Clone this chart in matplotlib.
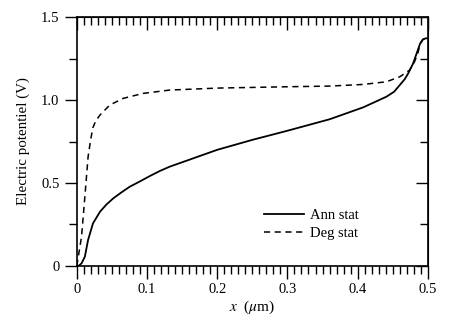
import numpy as np
import matplotlib
matplotlib.use("Agg")
import matplotlib.pyplot as plt
from matplotlib.ticker import MultipleLocator

plt.rcParams['font.family'] = ['Liberation Serif', 'DejaVu Serif']
plt.rcParams['mathtext.fontset'] = 'stix'

# Ann stat (solid)
ann_x = [0.0, 0.003, 0.0067, 0.0114, 0.016, 0.023, 0.033, 0.042, 0.052, 0.064, 0.0755, 0.09,
         0.104, 0.118, 0.132, 0.16, 0.2, 0.25, 0.3, 0.36, 0.408, 0.441, 0.452, 0.46, 0.467,
         0.472, 0.479, 0.484, 0.489, 0.493, 0.497, 0.5]
ann_y = [0.0, 0.002, 0.016, 0.056, 0.157, 0.257, 0.327, 0.37, 0.408, 0.445, 0.478, 0.51,
         0.542, 0.572, 0.598, 0.64, 0.70, 0.76, 0.815, 0.884, 0.956, 1.02, 1.05, 1.09, 1.125,
         1.16, 1.22, 1.28, 1.34, 1.365, 1.372, 1.372]

# Deg stat (dashed)
deg_x = [0.0, 0.0005, 0.0067, 0.0114, 0.016, 0.02, 0.023, 0.027, 0.033, 0.047, 0.066, 0.0945,
         0.132, 0.2, 0.3, 0.36, 0.408, 0.441, 0.46, 0.474, 0.481, 0.486, 0.489, 0.493, 0.497, 0.5]
deg_y = [0.0, 0.016, 0.177, 0.417, 0.658, 0.77, 0.835, 0.875, 0.91, 0.97, 1.01, 1.04,
         1.06, 1.072, 1.08, 1.084, 1.094, 1.11, 1.14, 1.18, 1.23, 1.285, 1.34, 1.365, 1.372, 1.372]

fig = plt.figure(figsize=(4.63, 3.22), dpi=100)
ax = fig.add_axes([0.166, 0.174, 0.758, 0.773])

ax.plot(ann_x, ann_y, color='black', lw=1.3, label='Ann stat')
ax.plot(deg_x, deg_y, color='black', lw=1.1, ls=(0, (4, 3)), label='Deg stat')

ax.set_xlim(0, 0.5)
ax.set_ylim(0, 1.5)
ax.xaxis.set_minor_locator(MultipleLocator(0.01))
ax.yaxis.set_minor_locator(MultipleLocator(0.25))
ax.set_xticks([0, 0.1, 0.2, 0.3, 0.4, 0.5])
ax.set_xticklabels(['0', '0.1', '0.2', '0.3', '0.4', '0.5'])
ax.set_yticks([0, 0.5, 1.0, 1.5])
ax.set_yticklabels(['0', '0.5', '1.0', '1.5'])

ax.tick_params(which='both', direction='out', top=False, right=False, labelsize=10.5, width=1)
ax.tick_params(which='major', length=9)
ax.tick_params(which='minor', length=6)
# top and right ticks point inward via secondary axes
top = ax.secondary_xaxis('top')
top.xaxis.set_major_locator(MultipleLocator(0.1))
top.xaxis.set_minor_locator(MultipleLocator(0.01))
top.tick_params(which='both', direction='in', labeltop=False, width=1)
top.tick_params(which='major', length=9)
top.tick_params(which='minor', length=6)
right = ax.secondary_yaxis('right')
right.yaxis.set_major_locator(MultipleLocator(0.5))
right.yaxis.set_minor_locator(MultipleLocator(0.25))
right.tick_params(which='both', direction='in', labelright=False, width=1)
right.tick_params(which='major', length=9)
right.tick_params(which='minor', length=6)

for s in ax.spines.values():
    s.set_linewidth(1.2)

ax.set_xlabel(r'$x$  ($\mu$m)', fontsize=11, labelpad=2)
ax.set_ylabel('Electric potentiel (V)', fontsize=10.8, labelpad=8)

ax.legend(loc='upper left', bbox_to_anchor=(0.497, 0.282), frameon=False, fontsize=10.5,
          handlelength=2.7, handletextpad=0.4, labelspacing=0.3)

fig.savefig('out.png', dpi=100)
